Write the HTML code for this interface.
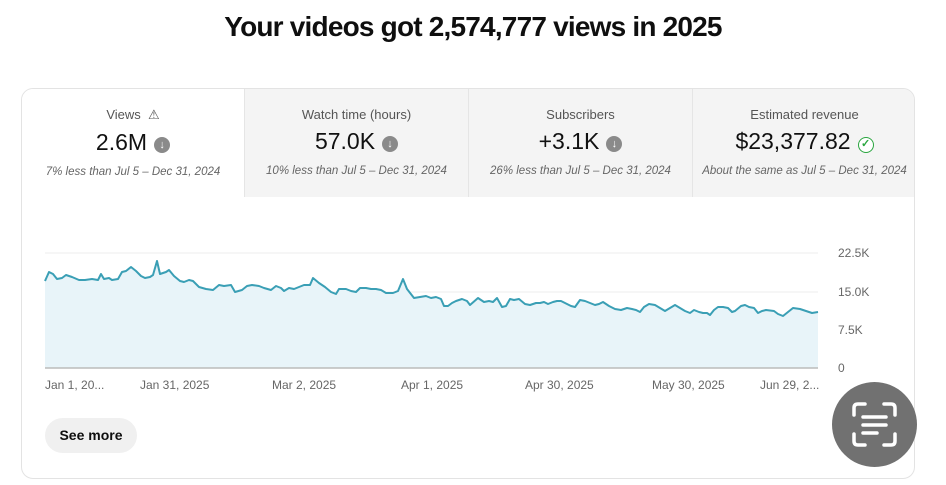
<!DOCTYPE html>
<html><head><meta charset="utf-8"><style>
*{margin:0;padding:0;box-sizing:border-box}
body{width:946px;height:485px;background:#fff;font-family:"Liberation Sans",sans-serif;position:relative;overflow:hidden;color:#0f0f0f}
h1{position:absolute;top:11px;left:0;width:946px;text-align:center;font-size:28px;font-weight:bold;letter-spacing:-0.8px}
.card{position:absolute;left:21px;top:88px;width:894px;height:391px;border:1px solid #e3e3e3;border-radius:12px;overflow:hidden}
.tab{position:absolute;top:0;height:108px;text-align:center;background:#f4f4f4;border-left:1px solid #e5e5e5}
.tab .l{margin-top:18px;font-size:13px;color:#555}
.tab .v{margin-top:6px;font-size:23px;color:#111}
.tab .s{margin-top:10px;font-size:11.5px;font-style:italic;color:#666}
.ic{display:inline-block;width:16px;height:16px;border-radius:50%;background:#8a8a8a;vertical-align:2px;margin-left:7px;color:#fff;font-size:11px;line-height:16px;font-weight:bold}
.ax{position:absolute;font-size:12px;color:#666}
.btn{position:absolute;left:45px;top:418px;width:92px;height:35px;border-radius:18px;background:#f0f0f0;font-size:14px;font-weight:bold;text-align:center;line-height:35px}
.lens{position:absolute;left:832px;top:382px;width:85px;height:85px;border-radius:50%;background:#717171}
</style></head><body>
<h1>Your videos got 2,574,777 views in 2025</h1>
<div class="card">
<div class="tab" style="left:0;width:222px;background:#fff;border-left:none"><div class="l">Views &nbsp;⚠</div><div class="v">2.6M<span class="ic">↓</span></div><div class="s">7% less than Jul 5 – Dec 31, 2024</div></div>
<div class="tab" style="left:222px;width:224px"><div class="l">Watch time (hours)</div><div class="v">57.0K<span class="ic">↓</span></div><div class="s">10% less than Jul 5 – Dec 31, 2024</div></div>
<div class="tab" style="left:446px;width:224px"><div class="l">Subscribers</div><div class="v">+3.1K<span class="ic">↓</span></div><div class="s">26% less than Jul 5 – Dec 31, 2024</div></div>
<div class="tab" style="left:670px;width:224px"><div class="l">Estimated revenue</div><div class="v">$23,377.82<span class="ic" style="background:#fff;color:#2ba640;border:1.5px solid #2ba640;line-height:13px">✓</span></div><div class="s">About the same as Jul 5 – Dec 31, 2024</div></div>
</div>
<svg style="position:absolute;left:0;top:0" width="946" height="485">
<line x1="45" y1="253" x2="818" y2="253" stroke="#eee"/>
<line x1="45" y1="292" x2="818" y2="292" stroke="#eee"/>
<line x1="45" y1="330" x2="818" y2="330" stroke="#eee"/>
<polygon fill="#e8f4f9" points="45,368 45,281 49,272 53,274 57,279 62,278 66,275 72,277 79,280 85,280 92,279 98,280 101,274 104,279 109,278 112,280 118,279 122,272 126,271 131,267 136,271 141,276 145,278 150,277 153,275 157,261 160,274 166,272 169,270 174,276 180,281 184,282 189,280 193,281 199,287 206,289 213,290 219,285 224,286 231,285 235,292 242,290 247,286 252,285 259,286 264,288 271,290 276,286 281,288 284,291 289,288 294,289 299,287 304,285 310,285 313,278 319,283 325,287 331,292 336,294 339,289 346,289 351,291 356,292 360,288 366,288 371,289 376,289 381,290 386,293 393,293 398,291 403,279 407,289 414,298 420,297 426,296 431,298 436,297 441,299 444,306 448,306 452,303 456,301 462,299 467,301 470,305 478,298 484,302 489,301 493,302 497,298 502,307 506,306 510,299 514,300 519,299 525,304 530,305 536,303 540,303 544,302 548,304 553,302 557,301 561,301 565,303 571,306 575,307 580,300 585,301 590,303 595,305 599,304 603,302 609,306 615,309 621,310 627,308 632,309 636,310 640,312 644,307 649,304 655,305 660,308 665,311 670,308 675,305 680,308 685,311 690,313 694,310 699,312 703,313 707,313 710,315 714,310 718,307 723,307 728,308 732,312 735,311 741,306 745,305 749,307 754,308 758,313 762,311 766,310 774,311 778,314 783,316 788,312 793,308 800,309 806,311 812,313 818,312 818,368"/>
<polyline fill="none" stroke="#3a9fb5" stroke-width="2" stroke-linejoin="round" points="45,281 49,272 53,274 57,279 62,278 66,275 72,277 79,280 85,280 92,279 98,280 101,274 104,279 109,278 112,280 118,279 122,272 126,271 131,267 136,271 141,276 145,278 150,277 153,275 157,261 160,274 166,272 169,270 174,276 180,281 184,282 189,280 193,281 199,287 206,289 213,290 219,285 224,286 231,285 235,292 242,290 247,286 252,285 259,286 264,288 271,290 276,286 281,288 284,291 289,288 294,289 299,287 304,285 310,285 313,278 319,283 325,287 331,292 336,294 339,289 346,289 351,291 356,292 360,288 366,288 371,289 376,289 381,290 386,293 393,293 398,291 403,279 407,289 414,298 420,297 426,296 431,298 436,297 441,299 444,306 448,306 452,303 456,301 462,299 467,301 470,305 478,298 484,302 489,301 493,302 497,298 502,307 506,306 510,299 514,300 519,299 525,304 530,305 536,303 540,303 544,302 548,304 553,302 557,301 561,301 565,303 571,306 575,307 580,300 585,301 590,303 595,305 599,304 603,302 609,306 615,309 621,310 627,308 632,309 636,310 640,312 644,307 649,304 655,305 660,308 665,311 670,308 675,305 680,308 685,311 690,313 694,310 699,312 703,313 707,313 710,315 714,310 718,307 723,307 728,308 732,312 735,311 741,306 745,305 749,307 754,308 758,313 762,311 766,310 774,311 778,314 783,316 788,312 793,308 800,309 806,311 812,313 818,312"/>
<line x1="45" y1="368" x2="818" y2="368" stroke="#bbb" stroke-width="1.5"/>
</svg>
<div class="ax" style="left:838px;top:246px">22.5K</div>
<div class="ax" style="left:838px;top:285px">15.0K</div>
<div class="ax" style="left:838px;top:323px">7.5K</div>
<div class="ax" style="left:838px;top:361px">0</div>
<div class="ax" style="left:45px;top:378px">Jan 1, 20...</div>
<div class="ax" style="left:140px;top:378px">Jan 31, 2025</div>
<div class="ax" style="left:272px;top:378px">Mar 2, 2025</div>
<div class="ax" style="left:401px;top:378px">Apr 1, 2025</div>
<div class="ax" style="left:525px;top:378px">Apr 30, 2025</div>
<div class="ax" style="left:652px;top:378px">May 30, 2025</div>
<div class="ax" style="left:760px;top:378px">Jun 29, 2...</div>
<div class="btn">See more</div>
<div class="lens"><svg width="85" height="85"><g fill="none" stroke="#fff" stroke-width="3.5" stroke-linecap="round"><path d="M22 33V26q0-4 4-4h7M52 22h7q4 0 4 4v7M63 52v7q0 4-4 4h-7M33 63h-7q-4 0-4-4v-7"/><path d="M31 35h23M31 43h23M31 51h14"/></g></svg></div>
</body></html>
